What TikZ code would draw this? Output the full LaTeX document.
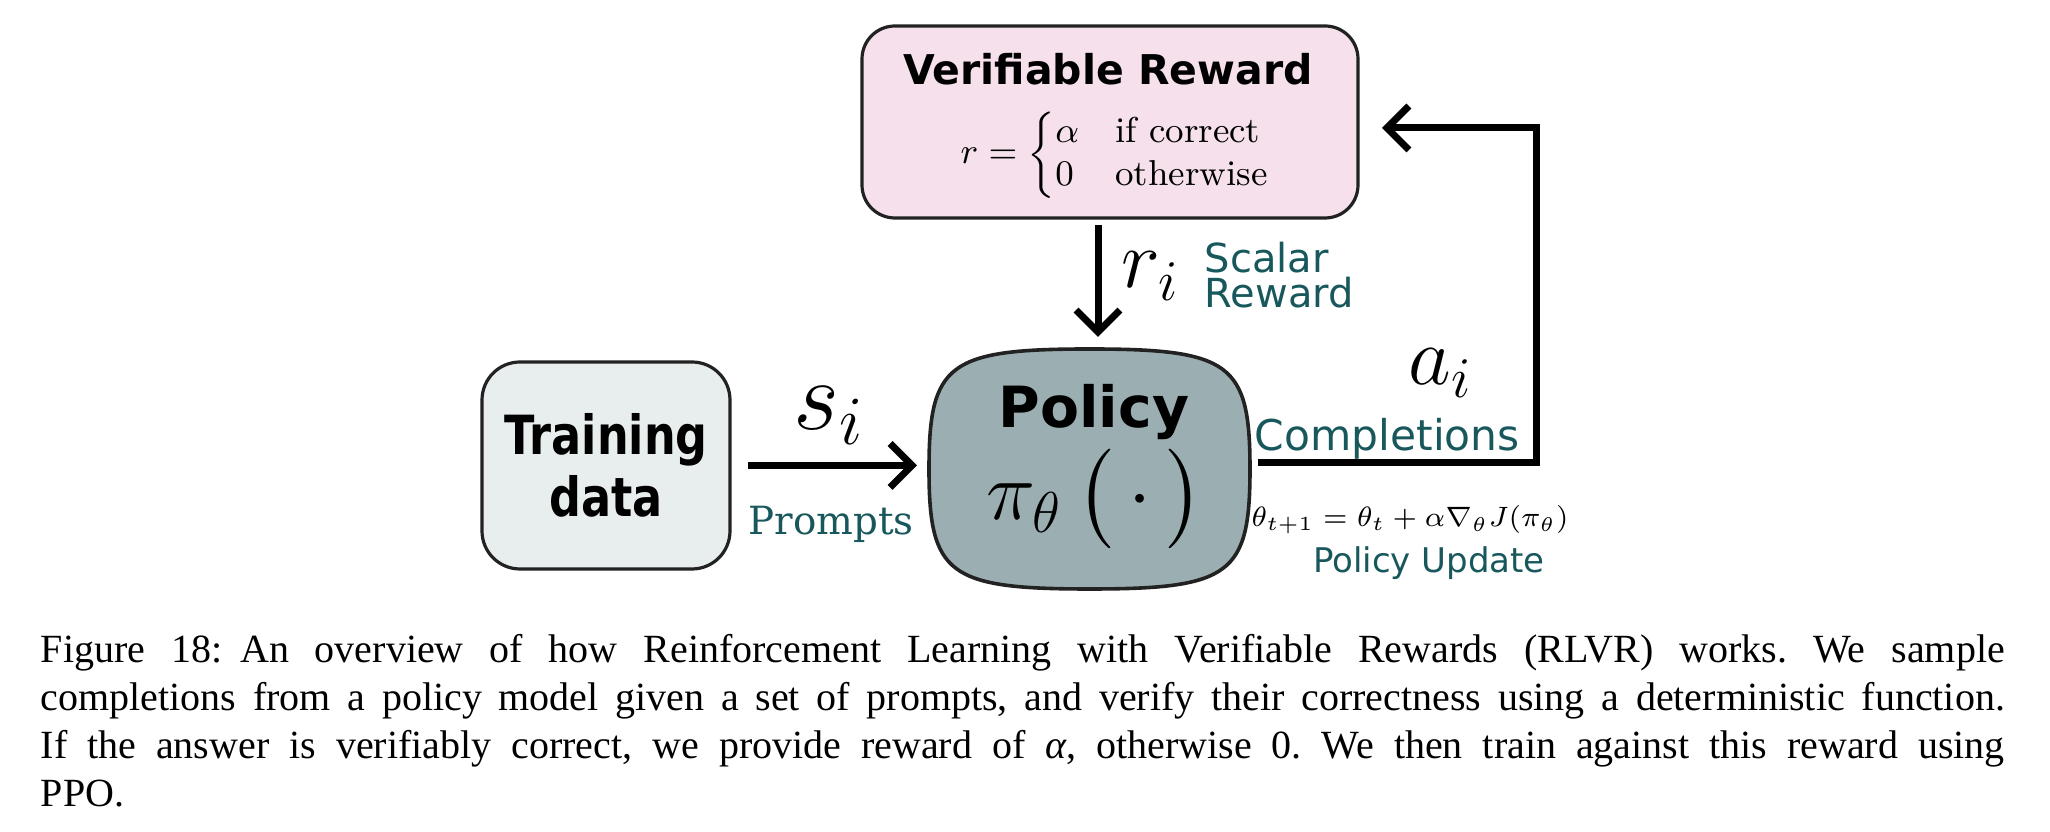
\documentclass[tikz,border=0pt]{standalone}
\usepackage{amsmath}
\usepackage{fontspec}
\usetikzlibrary{arrows.meta}
\newfontfamily\hsans{DejaVu Sans}
\newfontfamily\pserif{DejaVu Serif}
\newfontfamily\capfont{Liberation Serif}
\definecolor{vrpink}{RGB}{246,224,235}
\definecolor{tdgray}{RGB}{232,238,238}
\definecolor{polfill}{RGB}{155,175,178}
\definecolor{tealtxt}{RGB}{24,88,92}
\definecolor{edgecol}{RGB}{34,34,34}
\begin{document}
\begin{tikzpicture}[x=0.25pt,y=-0.25pt,
  boxstyle/.style={draw=edgecol, line width=0.8pt, inner sep=0pt, outer sep=0pt},
  arr/.style={line width=1.75pt, -{Straight Barb[length=5.5pt,width=11pt]}},
  lbl/.style={text=tealtxt, inner sep=0pt},
  mth/.style={inner sep=0pt}
]
\useasboundingbox (0,0) rectangle (2050,832);

% Verifiable reward box
\node[boxstyle, fill=vrpink, rounded corners=8.25pt,
      minimum width=124pt, minimum height=48pt] (vr) at (1110,122) {};
\node[inner sep=0pt, anchor=base, font=\hsans\bfseries\fontsize{10.25pt}{12pt}\selectfont]
  (vrtitle) at (1108,85) {Verifiable Reward};
\node[mth, font=\fontsize{9pt}{9pt}\selectfont] (vrmath) at (1116.5,155)
  {$r=\begin{cases}\alpha & \text{if correct}\\ 0 & \text{otherwise}\end{cases}$};

% Training data box
\node[boxstyle, fill=tdgray, rounded corners=9.5pt,
      minimum width=62pt, minimum height=51.75pt, align=center,
      font=\hsans\bfseries\fontsize{13.5pt}{15.5pt}\selectfont]
  (train) at (606,465.5) {\scalebox{0.825}[1]{Training}\\\scalebox{0.825}[1]{data}};

% Policy box (squircle)
\node[inner sep=0pt, outer sep=0pt, minimum width=80.25pt, minimum height=60pt] (policy) at (1089.5,469) {};
\draw[draw=edgecol, line width=0.9pt, fill=polfill]
  (policy.north) .. controls +(35.3pt,0pt) and +(0pt,26.4pt) .. (policy.east)
  .. controls +(0pt,-26.4pt) and +(35.3pt,0pt) .. (policy.south)
  .. controls +(-35.3pt,0pt) and +(0pt,-26.4pt) .. (policy.west)
  .. controls +(0pt,26.4pt) and +(-35.3pt,0pt) .. (policy.north) -- cycle;
\node[inner sep=0pt, anchor=base, font=\hsans\bfseries\fontsize{14.2pt}{17pt}\selectfont]
  (poltitle) at (1094,428) {Policy};
\node[mth, anchor=base, font=\fontsize{19.5pt}{23pt}\selectfont]
  (polmath) at (1095,520) {$\pi_{\theta}\left(\vrule height 16.8pt depth 7.2pt width 0pt\,\cdot\,\right)$};

% s_i arrow
\draw[arr, shorten <=4.5pt, shorten >=3pt] (train.east) -- (train.east -| policy.west);
\node[mth, anchor=base, font=\fontsize{24pt}{28pt}\selectfont] (si) at (829,430) {$s_i$};
\node[lbl, anchor=base, font=\pserif\fontsize{9.7pt}{12pt}\selectfont] (prompts) at (831,535) {Prompts};

% r_i arrow
\coordinate (rx) at (1098,300);
\draw[arr, shorten <=1.75pt, shorten >=3pt] (vr.south -| rx) -- (policy.north -| rx);
\node[mth, anchor=base west, font=\fontsize{20.5pt}{24pt}\selectfont] (ri) at (1121,288) {$r_i$};
\node[lbl, anchor=base west, font=\hsans\fontsize{10pt}{12pt}\selectfont] (scalar) at (1204,273) {Scalar};
\node[lbl, anchor=base west, font=\hsans\fontsize{10pt}{12pt}\selectfont] (reward) at (1204,308) {Reward};

% feedback arrow
\coordinate (fbcorner) at (1536,128);
\draw[arr, line join=miter, shorten >=6pt] ([xshift=2pt,yshift=1.5pt]policy.east) -| (fbcorner) -- (vr.east |- fbcorner);
\node[mth, anchor=base west, font=\fontsize{22.5pt}{26pt}\selectfont] (ai) at (1408,385) {$a_i$};
\node[lbl, anchor=base west, font=\hsans\fontsize{10.6pt}{12pt}\selectfont] (compl) at (1254,451) {Completions};
\node[mth, anchor=base, font=\fontsize{7.4pt}{9pt}\selectfont] (upd) at (1410,527)
  {$\theta_{t+1}=\theta_t+\alpha\nabla_{\theta}J(\pi_{\theta})$};
\node[lbl, anchor=base, font=\hsans\fontsize{8.5pt}{10pt}\selectfont] (polupd) at (1429,573) {Policy Update};

% caption
\node[inner sep=0pt, anchor=north west, text width=491pt, align=justify,
      font=\capfont\fontsize{10pt}{12pt}\selectfont] (caption) at (40,628.4)
  {\frenchspacing\strut Figure 18:\hspace{0.45em}An overview of how Reinforcement Learning with Verifiable Rewards (RLVR) works. We sample\linebreak
   completions from a policy model given a set of prompts, and verify their correctness using a deterministic function.\linebreak
   If the answer is verifiably correct, we provide reward of \textit{α}, otherwise 0. We then train against this reward using\linebreak
   PPO.};
\end{tikzpicture}
\end{document}
